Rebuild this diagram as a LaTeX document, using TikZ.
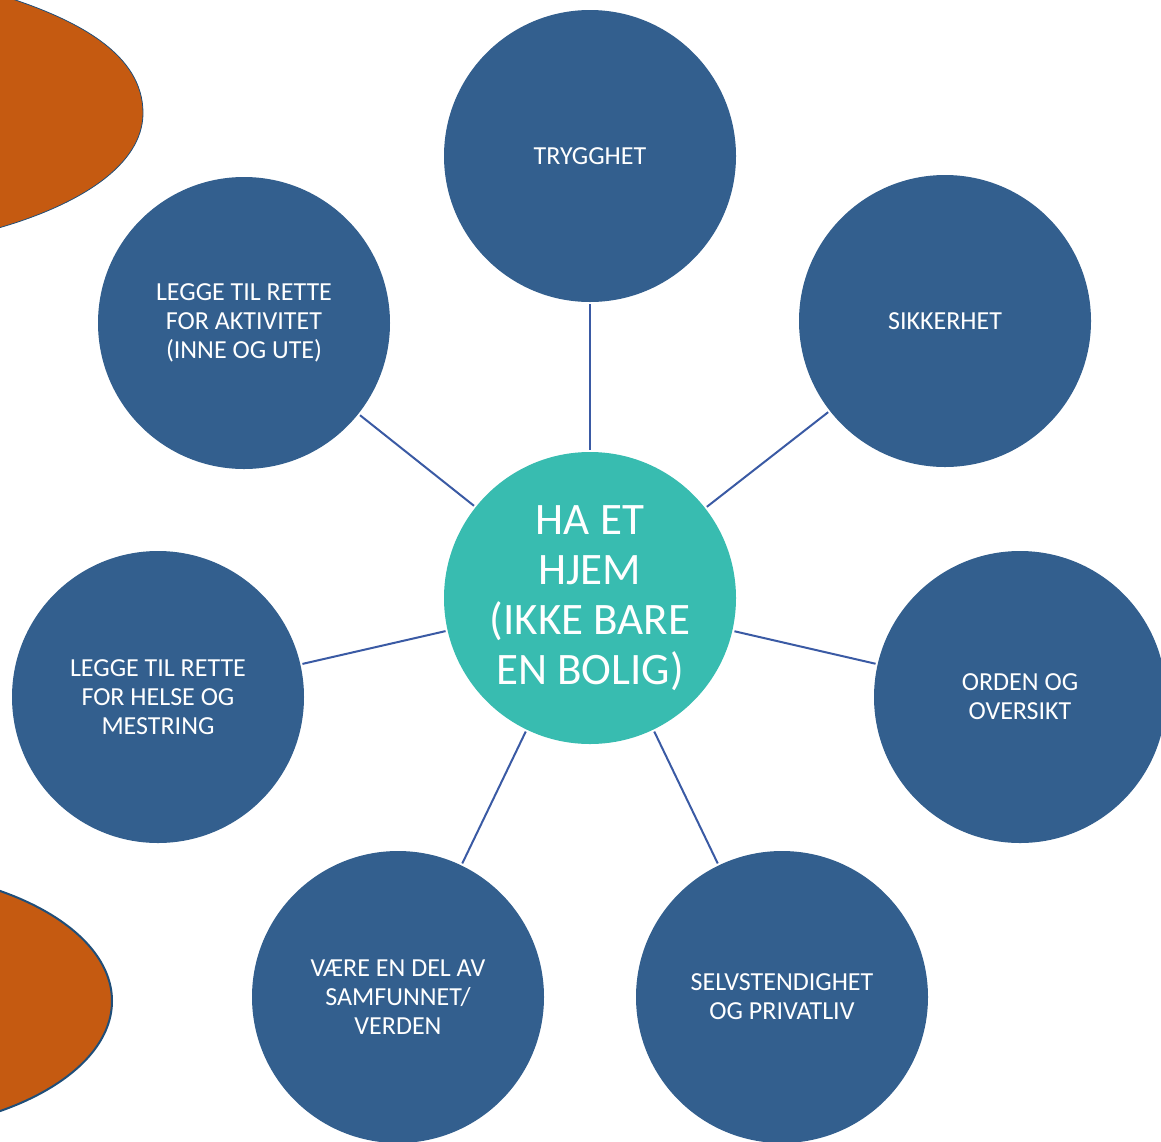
\documentclass[tikz,border=0pt]{standalone}
\usepackage{fontspec}
\setmainfont{Carlito}
\definecolor{cblue}{HTML}{335F8E}
\definecolor{cteal}{HTML}{38BCB0}
\definecolor{cline}{HTML}{3A5AA4}
\definecolor{corange}{HTML}{C55A11}
\definecolor{cedge}{HTML}{1F4E79}
\tikzset{
  outer/.style={circle, fill=cblue, minimum size=292pt, inner sep=0pt, text=white, align=center, font=\fontsize{26}{29}\selectfont},
  hub/.style={circle, fill=cteal, minimum size=292pt, inner sep=0pt, text=white, align=center, font=\fontsize{45}{50}\selectfont},
  spoke/.style={draw=cline, line width=2pt, shorten <=2pt, shorten >=2pt},
  blob/.style={fill=corange, draw=cedge}
}
\begin{document}
\begin{tikzpicture}[x=1pt,y=-1pt]
\useasboundingbox (0,0) rectangle (1161,1141);
\clip (0,0) rectangle (1161,1141);
% orange shapes
\path[blob, line width=0.8pt] (-40,-17) -- (0,-5) .. controls (80,20) and (143,55) .. (143,113) .. controls (143,165) and (80,205) .. (-5,229) -- (-40,240) -- (-60,240) -- (-60,-17) -- cycle;
\path[blob, line width=2pt] (-138,1001) ellipse [x radius=250, y radius=132];
% circles
\node[hub] (c) at (590,598) {HA ET\\HJEM\\(IKKE BARE\\EN BOLIG)};
\node[outer] (t) at (590,156) {TRYGGHET};
\node[outer] (s) at (945,321) {SIKKERHET};
\node[outer] (o) at (1020,697) {ORDEN OG\\OVERSIKT};
\node[outer] (p) at (782,997) {SELVSTENDIGHET\\OG PRIVATLIV};
\node[outer] (v) at (398,997) {VÆRE EN DEL AV\\SAMFUNNET/\\VERDEN};
\node[outer] (h) at (158,697) {LEGGE TIL RETTE\\FOR HELSE OG\\MESTRING};
\node[outer] (a) at (244,323) {LEGGE TIL RETTE\\FOR AKTIVITET\\(INNE OG UTE)};
% spokes
\foreach \n in {t,s,o,p,v,h,a}{\draw[spoke] (\n) -- (c);}
\end{tikzpicture}
\end{document}
